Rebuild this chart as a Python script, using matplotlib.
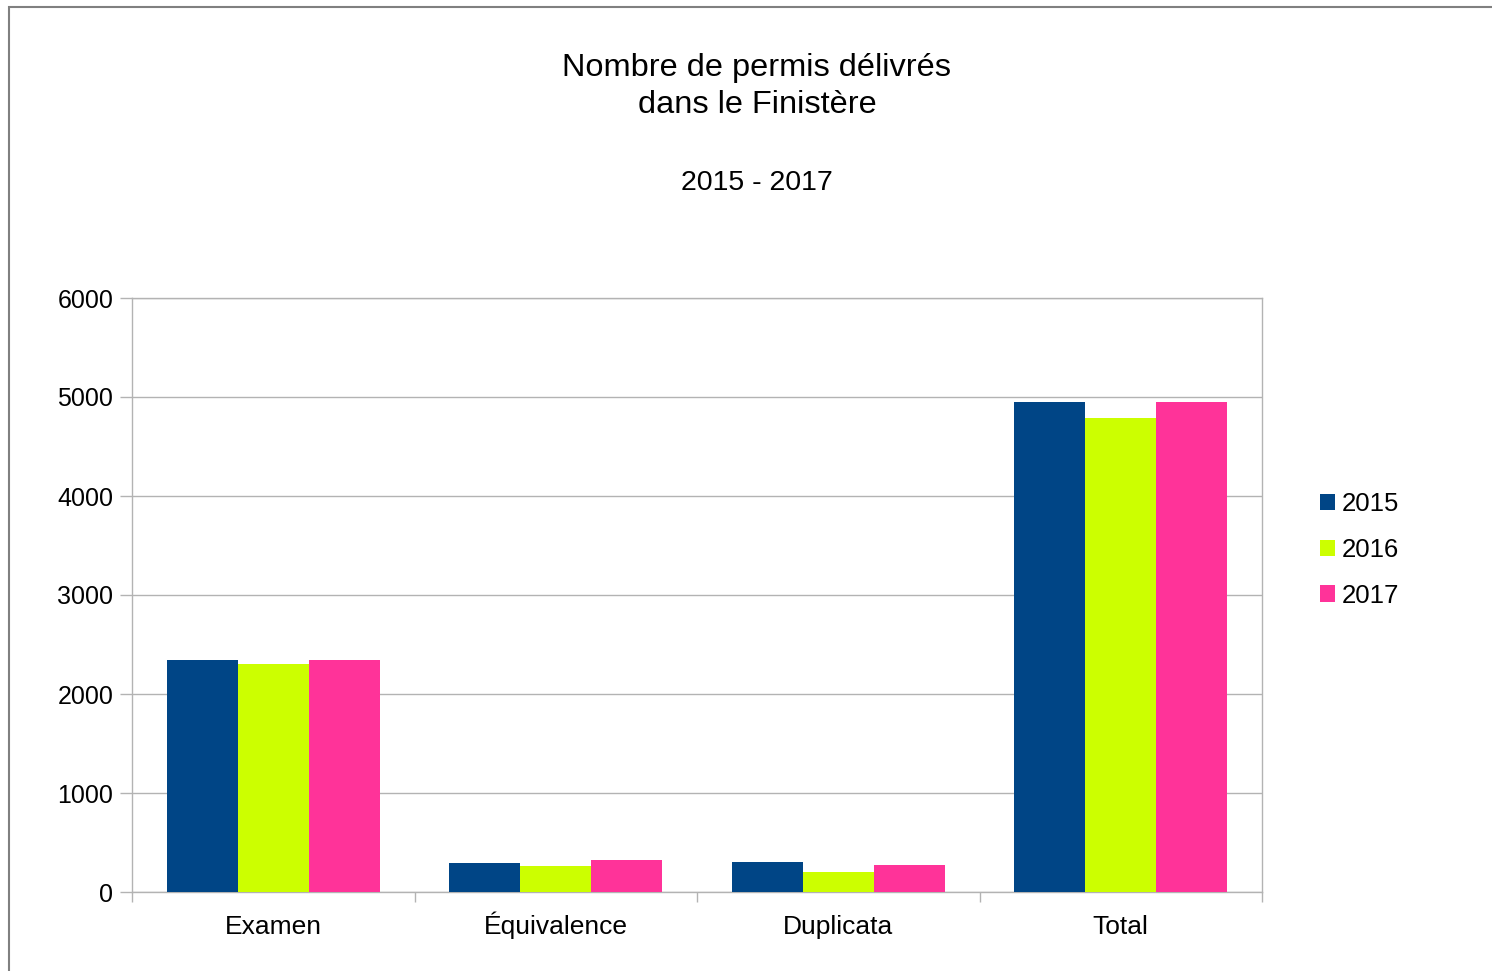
import numpy as np
import matplotlib.pyplot as plt
from matplotlib.patches import Rectangle

plt.rcParams['font.family'] = ['Liberation Sans', 'DejaVu Sans']

categories = ["Examen", "Équivalence", "Duplicata", "Total"]
years = ["2015", "2016", "2017"]
values_2015 = [2345, 295, 300, 4950]
values_2016 = [2305, 265, 200, 4790]
values_2017 = [2345, 320, 270, 4950]
colors = ["#004586", "#ccff00", "#ff3399"]

fig = plt.figure(figsize=(14.92, 9.71), dpi=100)
ax = fig.add_axes([132 / 1492, 1 - 892 / 971, 1130 / 1492, 594 / 971])

# cadre gris du graphique (haut et gauche visibles)
fig.patches.append(Rectangle((9 / 1492, -0.1), 1.2, 1 - 7 / 971 + 0.1,
                             transform=fig.transFigure, fill=False,
                             edgecolor="#808080", linewidth=1.5))

x = np.arange(len(categories))
w = 0.2515
for i, (vals, year) in enumerate(zip([values_2015, values_2016, values_2017], years)):
    ax.bar(x + (i - 1) * w, vals, width=w, color=colors[i], label=year, zorder=3)

ax.set_xlim(-0.5, len(categories) - 0.5)
ax.set_ylim(0, 6000)
ax.set_yticks(np.arange(0, 6001, 1000))
ax.yaxis.grid(True, color="#b3b3b3", linewidth=1, zorder=0)
ax.set_axisbelow(True)

ax.set_xticks(x)
ax.set_xticklabels(categories, fontsize=19)
for lbl in ax.get_xticklabels():
    lbl.set_verticalalignment("baseline")
ax.set_xticks(np.arange(-0.5, len(categories), 1), minor=True)
ax.tick_params(axis="x", which="major", length=0, pad=30.5)
ax.tick_params(axis="x", which="minor", length=7, width=1, color="#b3b3b3", direction="out")
ax.tick_params(axis="y", length=8.5, width=1, color="#b3b3b3", labelsize=18, pad=5)

for s in ax.spines.values():
    s.set_color("#b3b3b3")
    s.set_linewidth(1)

fig.text(757 / 1492, 1 - 76 / 971, "Nombre de permis délivrés",
         ha="center", va="baseline", fontsize=23.4)
fig.text(757 / 1492, 1 - 113 / 971, "dans le Finistère",
         ha="center", va="baseline", fontsize=23.4)
fig.text(757 / 1492, 1 - 190 / 971, "2015 - 2017", ha="center", va="baseline", fontsize=20.5)

ax.legend(loc="center left", bbox_to_anchor=(1.04, 0.576), frameon=False, fontsize=18.5,
          handlelength=0.6, handleheight=0.6, handletextpad=0.25, labelspacing=0.85,
          borderpad=0)

fig.savefig("out.png", dpi=100)
